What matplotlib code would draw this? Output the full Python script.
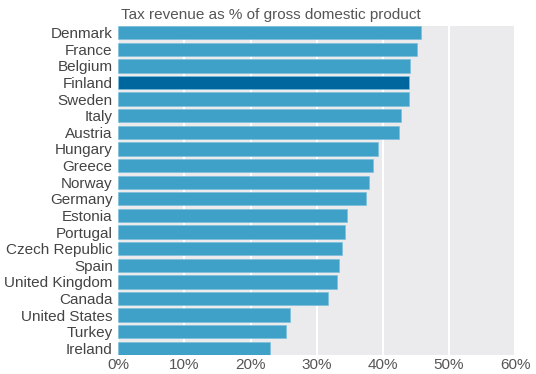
import matplotlib
matplotlib.use("Agg")
import matplotlib.pyplot as plt
import numpy as np

countries = ["Denmark", "France", "Belgium", "Finland", "Sweden", "Italy", "Austria",
             "Hungary", "Greece", "Norway", "Germany", "Estonia", "Portugal",
             "Czech Republic", "Spain", "United Kingdom", "Canada", "United States",
             "Turkey", "Ireland"]
values = [45.7, 45.2, 44.1, 44.0, 43.9, 42.8, 42.5, 39.3, 38.5, 37.9, 37.5,
          34.6, 34.3, 33.8, 33.4, 33.0, 31.7, 25.9, 25.3, 22.9]
highlight = "Finland"
xticks = [0, 10, 20, 30, 40, 50, 60]

plt.rcParams['font.family'] = ['Liberation Sans', 'DejaVu Sans']

fig = plt.figure(figsize=(5.36, 3.74), dpi=100)
ax = fig.add_axes([0.2207, 0.0508, 0.7403, 0.8797])
ax.set_facecolor("#ebebed")

colors = ["#00669e" if c == highlight else "#3fa0c8" for c in countries]
y = np.arange(len(countries))
ax.barh(y, values, height=0.8, color=colors, edgecolor="#7cc0dc", linewidth=0.5, zorder=3)

ax.set_xlim(0, 60)
ax.set_ylim(19.4, -0.4)
ax.set_xticks(xticks)
ax.set_xticklabels([f"{t}%" for t in xticks], fontsize=11, color="#555555")
ax.set_yticks(y)
ax.set_yticklabels(countries, fontsize=11, color="#444444")
ax.tick_params(axis="y", length=0, pad=4)
ax.tick_params(axis="x", length=0, pad=2)
ax.grid(axis="x", color="white", linewidth=1.5, zorder=1)
for s in ax.spines.values():
    s.set_visible(False)

ax.text(0.007, 1.012, "Tax revenue as % of gross domestic product", transform=ax.transAxes,
        fontsize=11, color="#555555", ha="left", va="bottom")

fig.savefig("out.png", dpi=100)
